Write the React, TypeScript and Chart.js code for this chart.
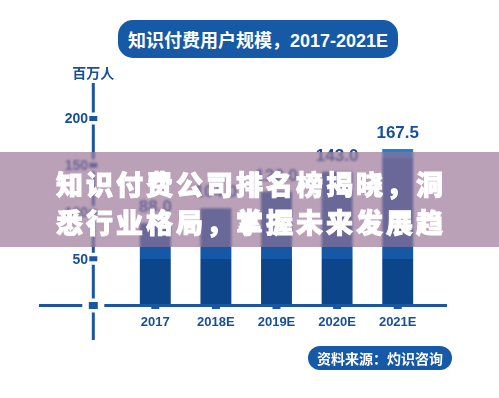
import React, { useEffect, useRef } from "react";
import { Chart, registerables } from "chart.js";

Chart.register(...registerables);

// ---- data ----
const categories = ["2017", "2018E", "2019E", "2020E", "2021E"];
const users = [88.0, 104.0, 122.0, 143.0, 167.5];
const valueLabels = ["88.0", "104.0", "122.0", "143.0", "167.5"];
const yTicks = [50, 100, 150, 200];
const yMin = 0;
const yMax = 200;
const titleText = "知识付费用户规模，2017-2021E";
const unitText = "百万人";
const sourceText = "资料来源：灼识咨询";
const bannerLines = ["知识付费公司排名榜揭晓，洞", "悉行业格局，掌握未来发展趋"];

// ---- style ----
const BLUE = "#1659a6";
const TEXT_BLUE = "#184f9b";
const AXIS = "#1a56a2";
const DARK = "#0c4589";
const MID = "#1558a5";
const LIGHT = "#2181cf";
const DARK_BAND_TOP = 50;
const LIGHT_BAND_FROM = 158;
const FONT = "'Liberation Sans', 'Noto Sans CJK SC', Arial, sans-serif";
const CJK = "'Noto Sans CJK SC', 'Liberation Sans', sans-serif";

const drawPlugin = {
  id: "customDraw",
  afterDatasetsDraw(chart: any) {
    const { ctx } = chart;
    const x = chart.scales.x;
    const y = chart.scales.y;
    const axisX = 93.3;
    const zeroY = y.getPixelForValue(0);
    ctx.save();

    // y axis line
    ctx.fillStyle = AXIS;
    ctx.fillRect(axisX - 1.5, 83, 3, 340 - 83);
    // x axis line
    ctx.fillRect(39, zeroY - 1.5, 447 - 39, 3);

    // gaps + tick squares on y axis
    yTicks.forEach((v) => {
      const py = y.getPixelForValue(v);
      ctx.fillStyle = "#ffffff";
      ctx.fillRect(axisX - 2, py - 6, 4, 12);
      ctx.fillStyle = AXIS;
      ctx.fillRect(axisX - 4, py - 2.5, 8, 5);
    });
    // crossing
    ctx.fillStyle = "#ffffff";
    ctx.fillRect(axisX - 2, zeroY - 7, 4, 14);
    ctx.fillRect(axisX - 11, zeroY - 2, 22, 4);
    ctx.fillStyle = AXIS;
    ctx.fillRect(axisX - 4.5, zeroY - 3.5, 9, 7);

    // notches under bars
    categories.forEach((_, i) => {
      const px = x.getPixelForValue(i);
      ctx.fillRect(px - 4, zeroY - 1, 8, 4.5);
    });

    // y tick labels
    ctx.font = `bold 14px ${FONT}`;
    ctx.textAlign = "right";
    ctx.textBaseline = "middle";
    ctx.fillStyle = TEXT_BLUE;
    yTicks.forEach((v) => {
      ctx.fillText(String(v), 88, y.getPixelForValue(v) + 1);
    });

    // unit
    ctx.font = `bold 14px ${CJK}`;
    ctx.textAlign = "center";
    ctx.fillText(unitText, axisX, 73);

    // x labels
    ctx.font = `bold 13px ${FONT}`;
    ctx.textAlign = "center";
    ctx.textBaseline = "middle";
    categories.forEach((c, i) => {
      ctx.fillText(c, x.getPixelForValue(i), 322);
    });

    // value labels
    ctx.font = `bold 17px ${FONT}`;
    ctx.textBaseline = "bottom";
    users.forEach((v, i) => {
      ctx.fillText(valueLabels[i], x.getPixelForValue(i), y.getPixelForValue(v) - 7);
    });

    ctx.restore();
  },
};

export default function App() {
  const canvasRef = useRef<HTMLCanvasElement | null>(null);

  useEffect(() => {
    if (!canvasRef.current) return;
    const chart = new Chart(canvasRef.current, {
      type: "bar",
      data: {
        labels: categories,
        datasets: [
          {
            label: "用户规模",
            data: users,
            backgroundColor: (c: any) => {
              const ch = c.chart;
              if (!ch.chartArea) return MID;
              const ys = ch.scales.y;
              const y0 = ys.getPixelForValue(yMin);
              const yT = ys.getPixelForValue(yMax);
              const span = y0 - yT;
              const t1 = (y0 - ys.getPixelForValue(DARK_BAND_TOP)) / span;
              const t2 = (y0 - ys.getPixelForValue(LIGHT_BAND_FROM)) / span;
              const g = ch.ctx.createLinearGradient(0, y0, 0, yT);
              g.addColorStop(0, DARK);
              g.addColorStop(t1, DARK);
              g.addColorStop(t1, MID);
              g.addColorStop(t2, MID);
              g.addColorStop(t2, LIGHT);
              g.addColorStop(1, LIGHT);
              return g;
            },
            borderWidth: 0,
            barPercentage: 0.51,
            categoryPercentage: 1,
          },
        ],
      },
      options: {
        responsive: false,
        animation: false,
        devicePixelRatio: 1,
        layout: { padding: { left: 125, right: 71, top: 118.5, bottom: 92.5 } },
        plugins: { legend: { display: false }, tooltip: { enabled: false } },
        scales: {
          x: { display: false, offset: true },
          y: { display: false, min: yMin, max: yMax },
        },
      },
      plugins: [drawPlugin],
    });
    return () => chart.destroy();
  }, []);

  return (
    <div
      style={{
        position: "fixed",
        left: 0,
        top: 0,
        width: 499,
        height: 398,
        background: "#ffffff",
        overflow: "hidden",
      }}
    >
      <canvas
        ref={canvasRef}
        width={499}
        height={398}
        style={{ position: "absolute", left: 0, top: 0, width: 499, height: 398 }}
      />
      <div
        style={{
          position: "absolute",
          left: 118,
          top: 20,
          width: 280,
          height: 38,
          borderRadius: 15,
          background: BLUE,
          color: "#ffffff",
          fontFamily: FONT,
          fontWeight: 700,
          fontSize: 18,
          display: "flex",
          alignItems: "center",
          justifyContent: "center",
          whiteSpace: "nowrap",
        }}
      >
        {titleText}
      </div>
      <div
        style={{
          position: "absolute",
          left: 308,
          top: 346,
          width: 144,
          height: 24,
          borderRadius: 12,
          background: BLUE,
          color: "#ffffff",
          fontFamily: CJK,
          fontWeight: 700,
          fontSize: 14,
          display: "flex",
          alignItems: "center",
          justifyContent: "center",
          whiteSpace: "nowrap",
        }}
      >
        {sourceText}
      </div>
      <div
        style={{
          position: "absolute",
          left: 0,
          top: 152,
          width: 499,
          height: 95,
          background: "rgba(150,112,146,0.66)",
          backdropFilter: "blur(1px)",
          WebkitBackdropFilter: "blur(1px)",
          zIndex: 2,
        }}
      >
        {bannerLines.map((line, i) => (
          <div
            key={i}
            style={{
              position: "absolute",
              left: 0,
              top: (i === 0 ? 31.5 : 69.5) - 19,
              width: 499,
              height: 38,
              lineHeight: "38px",
              textAlign: "center",
              color: "#ffffff",
              fontFamily: CJK,
              fontWeight: 900,
              fontSize: 27,
              letterSpacing: 3,
              paddingLeft: 3,
              boxSizing: "border-box",
              whiteSpace: "nowrap",
              WebkitTextStroke: "0.9px #ffffff",
            }}
          >
            {line}
          </div>
        ))}
      </div>
    </div>
  );
}
